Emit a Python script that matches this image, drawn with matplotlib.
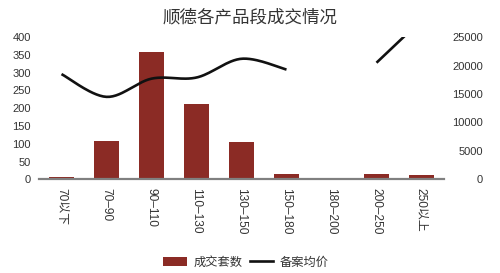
import numpy as np
import matplotlib
matplotlib.use("Agg")
import matplotlib.pyplot as plt
from matplotlib.lines import Line2D
from matplotlib.patches import Patch

plt.rcParams['font.family'] = ['Liberation Sans', 'Noto Sans CJK SC', 'DejaVu Sans']

categories = ["70以下", "70–90", "90–110", "110–130", "130–150", "150–180", "180–200", "200–250", "250以上"]
deals = [6, 107, 359, 211, 104, 14, 0, 14, 12]
price = [18500, 14500, 17700, 17900, 21200, 19300, np.nan, 20500, 28000]
left_ticks = [0, 50, 100, 150, 200, 250, 300, 350, 400]
right_ticks = [0, 5000, 10000, 15000, 20000, 25000]

bar_color = "#8B2B25"
text_color = "#333333"

fig = plt.figure(figsize=(5.0, 2.73), dpi=100)
ax = fig.add_axes([0.078, 0.343, 0.81, 0.521])
x = np.arange(len(categories))
ax.bar(x, deals, width=0.56, color=bar_color, zorder=2)
ax.set_xlim(-0.5, len(categories) - 0.5)
ax.set_ylim(0, 400)
ax.set_yticks(left_ticks)
ax.set_xticks(x)
ax.set_xticklabels(categories, rotation=270, fontsize=8.6, color=text_color)
ax.tick_params(axis='y', length=0, labelsize=8, colors=text_color, pad=6)
ax.tick_params(axis='x', length=0, labelsize=8.6, colors=text_color, pad=6)
for s in ['top', 'right', 'left']:
    ax.spines[s].set_visible(False)
ax.spines['bottom'].set_color("#808080")
ax.spines['bottom'].set_linewidth(1.6)

ax2 = ax.twinx()
ax2.set_ylim(0, 25000)
ax2.set_yticks(right_ticks)
ax2.tick_params(axis='y', length=0, labelsize=8, colors=text_color, pad=28)
for lab in ax2.get_yticklabels():
    lab.set_horizontalalignment('right')
for s in ax2.spines.values():
    s.set_visible(False)


def catmull(xs, ys, n=30):
    xs = np.asarray(xs, float); ys = np.asarray(ys, float)
    if len(xs) < 3:
        return xs, ys
    px = np.concatenate([[xs[0]], xs, [xs[-1]]])
    py = np.concatenate([[ys[0]], ys, [ys[-1]]])
    ox, oy = [], []
    for i in range(1, len(px) - 2):
        p0, p1, p2, p3 = [np.array([px[j], py[j]]) for j in (i - 1, i, i + 1, i + 2)]
        c1 = p1 + (p2 - p0) / 6.0
        c2 = p2 - (p3 - p1) / 6.0
        t = np.linspace(0, 1, n)[:, None]
        pts = ((1 - t) ** 3) * p1 + 3 * ((1 - t) ** 2) * t * c1 + 3 * (1 - t) * t ** 2 * c2 + t ** 3 * p2
        ox.extend(pts[:, 0]); oy.extend(pts[:, 1])
    return np.array(ox), np.array(oy)


pr = np.array(price, float)
seg = []
cur = []
for i, v in enumerate(pr):
    if np.isnan(v):
        if cur:
            seg.append(cur)
        cur = []
    else:
        cur.append(i)
if cur:
    seg.append(cur)
for s in seg:
    sx, sy = catmull(x[s], pr[s])
    ax2.plot(sx, sy, color="#111111", lw=1.9, zorder=3, solid_capstyle='butt')

fig.text(0.5, 0.935, "顺德各产品段成交情况", ha='center', va='center', fontsize=12.6,
         color=text_color, family=['Noto Sans CJK SC', 'DejaVu Sans'])

handles = [Patch(facecolor=bar_color, edgecolor='none'), Line2D([0], [0], color="#111111", lw=1.9)]
fig.legend(handles, ["成交套数", "备案均价"], loc='center', bbox_to_anchor=(0.492, 0.04), ncol=2,
           frameon=False, prop={'family': ['Noto Sans CJK SC', 'DejaVu Sans'], 'size': 8.8},
           handlelength=1.9, handleheight=0.8, columnspacing=0.6,
           handletextpad=0.55, labelcolor=text_color)

fig.savefig("out.png", dpi=100)
